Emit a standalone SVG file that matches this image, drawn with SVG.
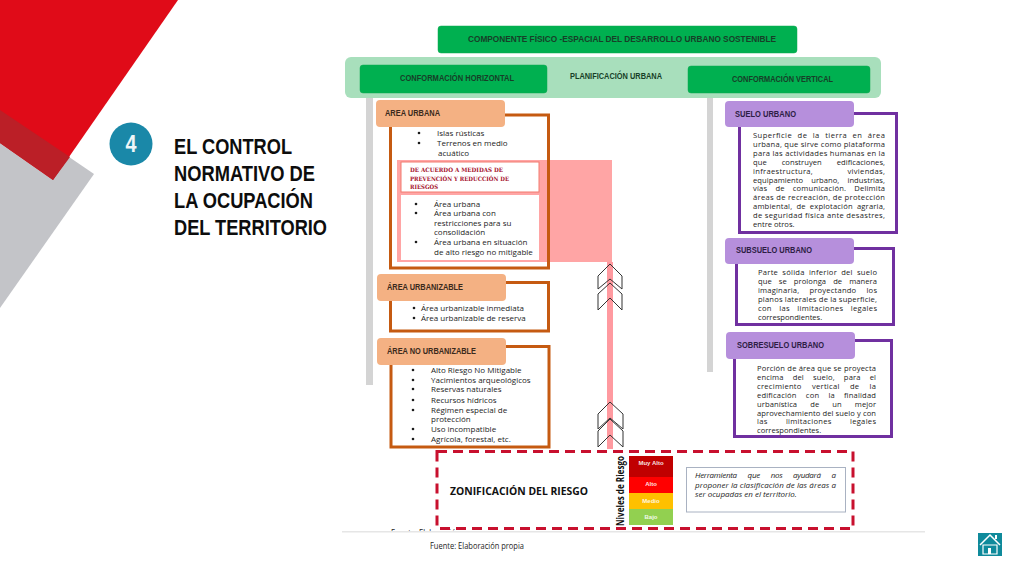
<svg xmlns="http://www.w3.org/2000/svg" width="1024" height="576" viewBox="0 0 1024 576">
<style>
text{font-family:"Open Sans","Liberation Sans",sans-serif;fill:#1c1c1c;font-size:8px}
.g{fill:#00b050;stroke:#0ca850;stroke-width:.5}
.h{font-family:"Liberation Sans",Arial,sans-serif;font-weight:700;font-size:8.500px;fill:#173f28}
.lh{font-family:"Liberation Sans",Arial,sans-serif;font-weight:700;font-size:8.500px;fill:#3a2a1c}
.ph{font-family:"Liberation Sans",Arial,sans-serif;font-weight:700;font-size:8.500px;fill:#2d1d45}
.o{fill:#f4b183}
.p{fill:#b68fdc}
.ob{fill:#fff;stroke:#c55a11;stroke-width:3}
.pb{fill:#fff;stroke:#7030a0;stroke-width:3}
.bar{fill:#d4d4d4}
.ch{fill:none;stroke:#333;stroke-width:1}
.lv{font-family:"Liberation Sans",Arial,sans-serif;font-weight:700;font-size:6px;fill:#fff;text-anchor:middle;fill-opacity:.9}
.t{font-family:"Liberation Sans",Arial,sans-serif;font-weight:700;font-size:22px;fill:#0d0d0d}
.r{font-family:"DejaVu Serif",serif;font-weight:700;font-size:6px;fill:#a5102c}
.i{font-style:italic;font-size:8px}
.d{fill:#1c1c1c}
</style>
<g id="background">
<polygon points="0,110 94,174 0,308" fill="#c3c4c8"/>
<polygon points="0,0 178,0 53,180 0,143" fill="#e00b18"/>
<polygon points="0,110 70,157 53,180 0,143" fill="#bb1f27"/>
</g>
<g id="title">
<circle cx="131" cy="144" r="21.500" fill="#1a88a8"/>
<text x="131" y="152" text-anchor="middle" style="font-family:'Liberation Sans',sans-serif;font-weight:700;font-size:23px;fill:#eef6f8" textLength="11" lengthAdjust="spacingAndGlyphs">4</text>
<text class="t" x="174" y="154" textLength="118" lengthAdjust="spacingAndGlyphs">EL CONTROL</text>
<text class="t" x="174" y="181" textLength="141" lengthAdjust="spacingAndGlyphs">NORMATIVO DE</text>
<text class="t" x="174" y="208" textLength="139" lengthAdjust="spacingAndGlyphs">LA OCUPACIÓN</text>
<text class="t" x="174" y="235" textLength="153" lengthAdjust="spacingAndGlyphs">DEL TERRITORIO</text>
</g>
<g id="connectors">
<rect class="bar" x="366" y="98" width="7" height="287"/>
<rect class="bar" x="707" y="98" width="6" height="274"/>
</g>
<g id="band"><rect x="345" y="57" width="536" height="41" rx="6" fill="#a8dfbc"/>
<text class="h" x="570" y="79" textLength="92" lengthAdjust="spacingAndGlyphs">PLANIFICACIÓN URBANA</text></g>
<g id="top"><rect class="g" x="438" y="26" width="359" height="27" rx="3"/><text class="h" x="468" y="42" textLength="308" lengthAdjust="spacingAndGlyphs">COMPONENTE FÍSICO -ESPACIAL DEL DESARROLLO URBANO SOSTENIBLE</text></g>
<g id="horizontal"><rect class="g" x="360" y="65" width="187" height="28" rx="3"/><text class="h" x="400" y="81" textLength="114" lengthAdjust="spacingAndGlyphs">CONFORMACIÓN HORIZONTAL</text></g>
<g id="vertical"><rect class="g" x="688" y="66" width="182" height="27" rx="3"/><text class="h" x="732" y="82" textLength="101" lengthAdjust="spacingAndGlyphs">CONFORMACIÓN VERTICAL</text></g>

<g id="area-urbana">
<rect x="390.500" y="115" width="158" height="153" fill="#fff"/>
<rect x="397" y="160" width="215" height="102" fill="#ffa5a5"/>
<rect x="401" y="162" width="138" height="30" fill="#fff" stroke="#f27a6e"/>
<rect x="401" y="195" width="138" height="65" fill="#fff"/>
<rect x="390.500" y="115" width="158" height="153" fill="none" stroke="#c55a11" stroke-width="3"/>
<rect class="o" x="376" y="100" width="129" height="27" rx="4"/>
<text class="lh" x="385" y="116" textLength="55" lengthAdjust="spacingAndGlyphs">AREA URBANA</text>
<circle class="d" cx="419" cy="133" r="1.300"/><text x="437" y="136">Islas rústicas</text>
<circle class="d" cx="419" cy="143" r="1.300"/><text x="437" y="146">Terrenos en medio</text>
<text x="438" y="156">acuático</text>
<text class="r" x="410" y="172" textLength="93" lengthAdjust="spacingAndGlyphs">DE ACUERDO A MEDIDAS DE</text>
<text class="r" x="410" y="181" textLength="99" lengthAdjust="spacingAndGlyphs">PREVENCIÓN Y REDUCCIÓN DE</text>
<text class="r" x="410" y="189" textLength="28" lengthAdjust="spacingAndGlyphs">RIESGOS</text>
<circle class="d" cx="416" cy="204" r="1.300"/><text x="434" y="207">Área urbana</text>
<circle class="d" cx="416" cy="213" r="1.300"/><text x="434" y="216">Área urbana con</text>
<text x="434" y="226">restricciones para su</text>
<text x="434" y="235">consolidación</text>
<circle class="d" cx="416" cy="242" r="1.300"/><text x="434" y="245">Área urbana en situación</text>
<text x="434" y="255">de alto riesgo no mitigable</text>
</g>
<g id="area-urbanizable">
<rect class="ob" x="390.500" y="282.500" width="158" height="48.500"/>
<rect class="o" x="377" y="274" width="129" height="27" rx="4"/>
<text class="lh" x="387" y="290" textLength="76" lengthAdjust="spacingAndGlyphs">ÁREA URBANIZABLE</text>
<circle class="d" cx="414" cy="308" r="1.300"/><text x="421" y="311">Área urbanizable inmediata</text>
<circle class="d" cx="414" cy="318" r="1.300"/><text x="421" y="321">Área urbanizable de reserva</text>
</g>
<g id="area-no-urbanizable">
<rect class="ob" x="391" y="346.500" width="158" height="100.500"/>
<rect class="o" x="377" y="338" width="129" height="27" rx="4"/>
<text class="lh" x="387" y="354" textLength="89" lengthAdjust="spacingAndGlyphs">ÁREA NO URBANIZABLE</text>
<circle class="d" cx="413" cy="370" r="1.300"/><text x="431" y="373">Alto Riesgo No Mitigable</text>
<circle class="d" cx="413" cy="380" r="1.300"/><text x="431" y="383">Yacimientos arqueológicos</text>
<circle class="d" cx="413" cy="389" r="1.300"/><text x="431" y="392">Reservas naturales</text>
<circle class="d" cx="413" cy="400" r="1.300"/><text x="431" y="403">Recursos hídricos</text>
<circle class="d" cx="413" cy="410" r="1.300"/><text x="431" y="413">Régimen especial de</text>
<text x="431" y="422">protección</text>
<circle class="d" cx="413" cy="429" r="1.300"/><text x="431" y="432">Uso incompatible</text>
<circle class="d" cx="413" cy="439" r="1.300"/><text x="431" y="442">Agrícola, forestal, etc.</text>
</g>
<g id="arrow">
<rect x="607" y="262" width="6" height="187" fill="#ff9aa0"/>
<path class="ch" d="M610 264L622 276V289L610 279L598 289V276Z"/>
<path class="ch" d="M610 283L622 294V310L610 298L598 310V294Z"/>
<path class="ch" d="M610 402L623 414V429L610 418L598 429V414Z"/>
<path class="ch" d="M610 419L623 431V447L610 435L598 447V431Z"/>
</g>
<g id="suelo-urbano">
<rect class="pb" x="739.500" y="113.500" width="157" height="119"/>
<rect class="p" x="725" y="101" width="129" height="26" rx="4"/>
<text class="ph" x="735" y="117" textLength="61" lengthAdjust="spacingAndGlyphs">SUELO URBANO</text>
<text style="font-size:7.600px;word-spacing:3px" x="753" y="138" textLength="132">Superficie de la tierra en área</text>
<text style="font-size:7.600px" x="753" y="146.900" textLength="132">urbana, que sirve como plataforma</text>
<text style="font-size:7.600px" x="753" y="155.800" textLength="132">para las actividades humanas en la</text>
<text style="font-size:7.600px;word-spacing:13px" x="753" y="164.700" textLength="132">que construyen edificaciones,</text>
<text style="font-size:7.600px;word-spacing:32px" x="753" y="173.600" textLength="132">infraestructura, viviendas,</text>
<text style="font-size:7.600px;word-spacing:6px" x="753" y="182.500" textLength="132">equipamiento urbano, industrias,</text>
<text style="font-size:7.600px;word-spacing:6px" x="753" y="191.400" textLength="132">vías de comunicación. Delimita</text>
<text style="font-size:7.600px" x="753" y="200.300" textLength="132">áreas de recreación, de protección</text>
<text style="font-size:7.600px;word-spacing:2px" x="753" y="209.200" textLength="132">ambiental, de explotación agraria,</text>
<text style="font-size:7.600px" x="753" y="218.100" textLength="132">de seguridad física ante desastres,</text>
<text style="font-size:7.600px" x="753" y="227">entre otros.</text>
</g>
<g id="subsuelo-urbano">
<rect class="pb" x="736.500" y="248.500" width="157" height="76"/>
<rect class="p" x="725" y="238" width="129" height="26" rx="4"/>
<text class="ph" x="736" y="253" textLength="76" lengthAdjust="spacingAndGlyphs">SUBSUELO URBANO</text>
<text style="font-size:7.600px;word-spacing:2px" x="758" y="275" textLength="119">Parte sólida inferior del suelo</text>
<text style="font-size:7.600px;word-spacing:5px" x="758" y="283.900" textLength="119">que se prolonga de manera</text>
<text style="font-size:7.600px;word-spacing:8px" x="758" y="292.800" textLength="119">imaginaria, proyectando los</text>
<text style="font-size:7.600px" x="758" y="301.700" textLength="119">planos laterales de la superficie,</text>
<text style="font-size:7.600px;word-spacing:5px" x="758" y="310.600" textLength="119">con las limitaciones legales</text>
<text style="font-size:7.600px" x="758" y="319.500">correspondientes.</text>
</g>
<g id="sobresuelo-urbano">
<rect class="pb" x="734.500" y="340.500" width="157" height="96"/>
<rect class="p" x="726" y="332" width="129" height="27" rx="4"/>
<text class="ph" x="737" y="348" textLength="87" lengthAdjust="spacingAndGlyphs">SOBRESUELO URBANO</text>
<text style="font-size:7.600px" x="757" y="371" textLength="119">Porción de área que se proyecta</text>
<text style="font-size:7.600px;word-spacing:7px" x="757" y="379.900" textLength="119">encima del suelo, para el</text>
<text style="font-size:7.600px;word-spacing:8px" x="757" y="388.800" textLength="119">crecimiento vertical de la</text>
<text style="font-size:7.600px;word-spacing:7px" x="757" y="397.700" textLength="119">edificación con la finalidad</text>
<text style="font-size:7.600px;word-spacing:11px" x="757" y="406.600" textLength="119">urbanística de un mejor</text>
<text style="font-size:7.600px" x="757" y="415.500" textLength="119">aprovechamiento del suelo y con</text>
<text style="font-size:7.600px;word-spacing:16px" x="757" y="424.400" textLength="119">las limitaciones legales</text>
<text style="font-size:7.600px" x="757" y="433.300">correspondientes.</text>
</g>
<g id="fuente-cortada">
<text x="391" y="536" style="font-size:9px" textLength="94" lengthAdjust="spacingAndGlyphs">Fuente: Elaboración propia</text>
<rect x="340" y="532" width="590" height="10" fill="#fff"/>
<rect x="342" y="531" width="583" height="1.500" fill="#e6e6e6"/>
</g>
<g id="zonificacion">
<rect x="437" y="451.500" width="416" height="77" fill="none" stroke="#c8102e" stroke-width="3" stroke-dasharray="10 6"/>
<text x="450" y="495" style="font-family:'Open Sans',sans-serif;font-weight:700;font-size:10.500px;fill:#111" textLength="138" lengthAdjust="spacingAndGlyphs">ZONIFICACIÓN DEL RIESGO</text>
<text transform="translate(624 526) rotate(-90)" style="font-family:'Open Sans',sans-serif;font-weight:700;font-size:10.500px;fill:#111" textLength="70" lengthAdjust="spacingAndGlyphs">Niveles de Riesgo</text>
</g>
<g id="niveles">
<rect x="629" y="456" width="44" height="21" fill="#c00000"/>
<rect x="629" y="477" width="44" height="16" fill="#ff0000"/>
<rect x="629" y="493" width="44" height="16" fill="#ffc000"/>
<rect x="629" y="509" width="44" height="16" fill="#92d050"/>
<text class="lv" x="651" y="465">Muy Alto</text>
<text class="lv" x="651" y="486">Alto</text>
<text class="lv" x="651" y="503">Medio</text>
<text class="lv" x="651" y="519">Bajo</text>
</g>
<g id="herramienta">
<rect x="686.500" y="467.500" width="159" height="44.500" fill="#fff" stroke="#a9b2c2"/>
<text class="i" style="word-spacing:9px" x="695" y="478" textLength="141">Herramienta que nos ayudará a</text>
<text class="i" x="695" y="488" textLength="141">proponer la clasificación de las áreas a</text>
<text class="i" x="695" y="497">ser ocupadas en el territorio.</text>
</g>
<g id="fuente"><text x="430" y="549" style="font-size:9px" textLength="94" lengthAdjust="spacingAndGlyphs">Fuente: Elaboración propia</text></g>
<g id="home">
<rect x="978" y="533" width="24" height="23" fill="#0f8a9b"/>
<path d="M980 545L990 535L1000 545" fill="none" stroke="#fff" stroke-width="1.500"/>
<path d="M983 545H997V554H983Z" fill="none" stroke="#fff" stroke-width="1.200"/>
<rect x="988" y="548" width="3" height="6" fill="#fff"/>
<rect x="995" y="535" width="2" height="4" fill="#fff"/>
</g>
</svg>
